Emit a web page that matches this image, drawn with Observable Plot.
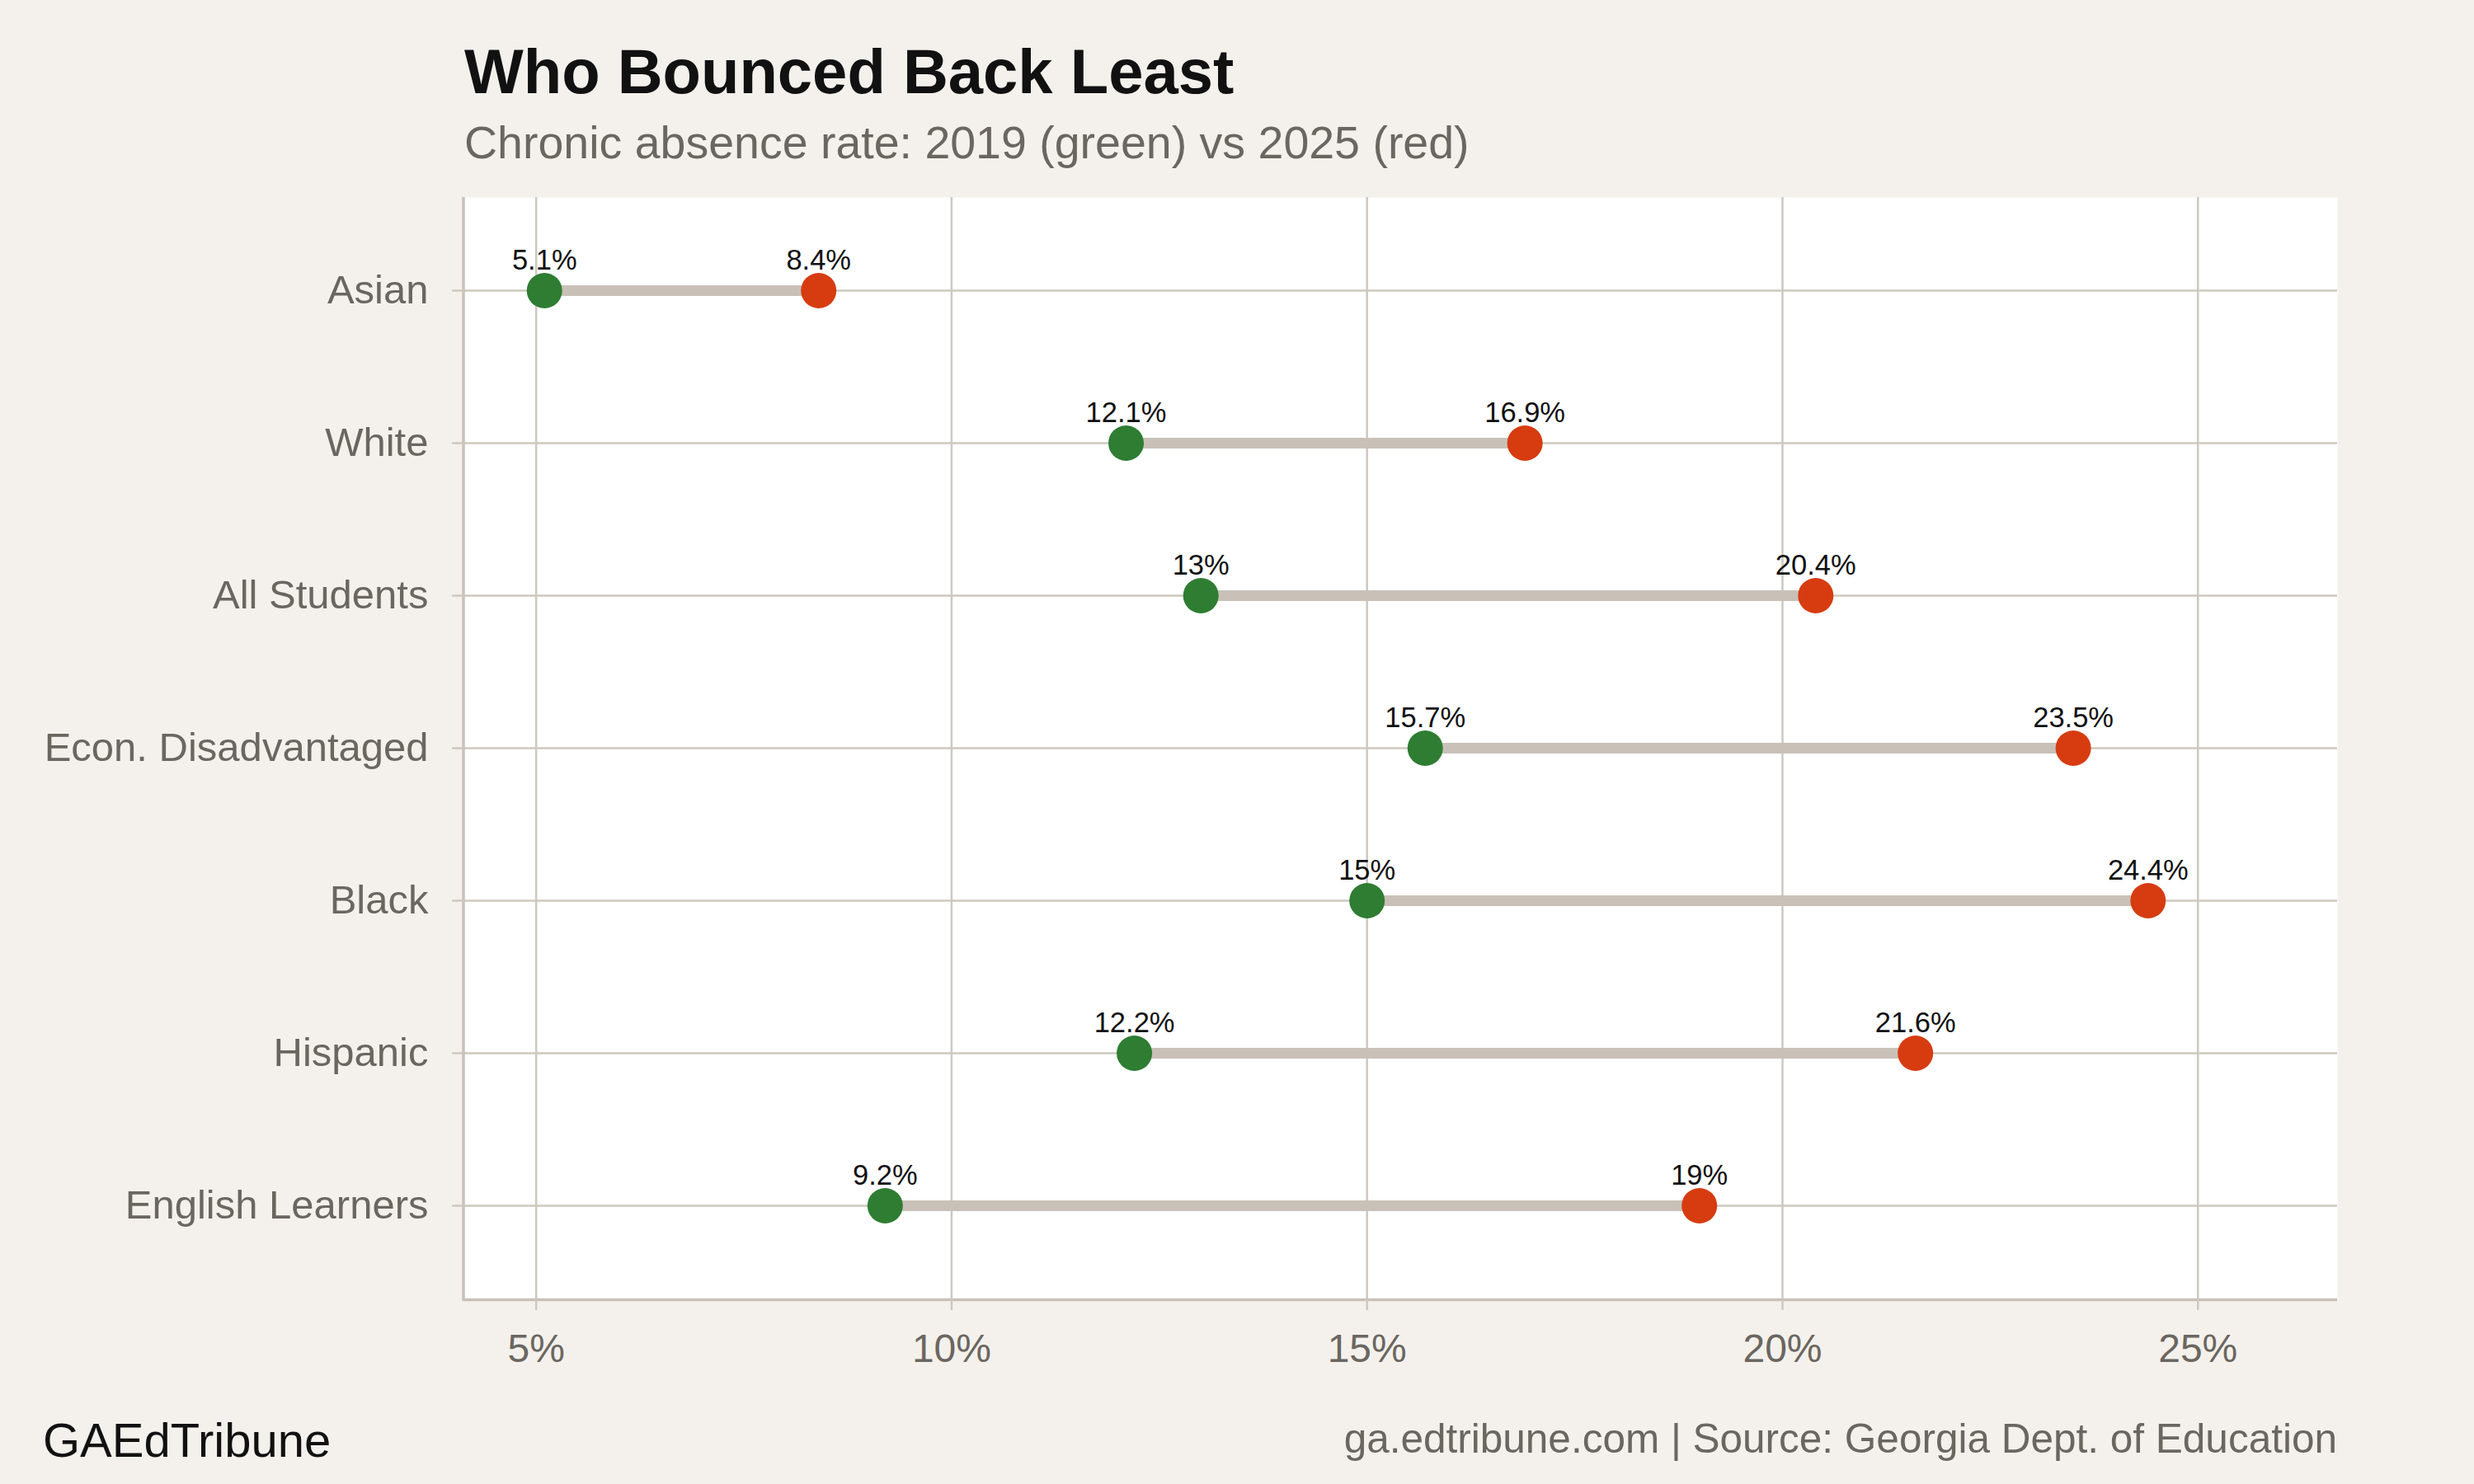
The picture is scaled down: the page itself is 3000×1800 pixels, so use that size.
<!DOCTYPE html>
<html>
<head>
<meta charset="utf-8">
<script src="https://cdn.jsdelivr.net/npm/d3@7"></script>
<script src="https://cdn.jsdelivr.net/npm/@observablehq/plot@0.6"></script>
<style>
  html, body { margin: 0; padding: 0; background: #f4f1ec; }
  #page { position: relative; width: 3000px; height: 1800px; background: #f4f1ec;
          font-family: "Liberation Sans", Arial, Helvetica, sans-serif; overflow: hidden; }
  .txt { position: absolute; line-height: 1; white-space: nowrap; }
  #title { left: 563px; top: 49px; font-size: 76px; font-weight: bold; color: #111; }
  #subtitle { left: 563px; top: 146px; font-size: 55.5px; color: #6b6660; }
  #brand { left: 52px; top: 1718px; font-size: 58px; color: #111; }
  #source { right: 166px; top: 1720px; font-size: 49.5px; color: #6b6660; }
  #chart { position: absolute; left: 0; top: 200px; }
</style>
</head>
<body>
<div id="page">
  <div id="title" class="txt">Who Bounced Back Least</div>
  <div id="subtitle" class="txt">Chronic absence rate: 2019 (green) vs 2025 (red)</div>
  <div id="chart"></div>
  <div id="brand" class="txt">GAEdTribune</div>
  <div id="source" class="txt">ga.edtribune.com | Source: Georgia Dept. of Education</div>
</div>
<script>
// Student groups, top to bottom
const groups = ["Asian", "White", "All Students", "Econ. Disadvantaged", "Black", "Hispanic", "English Learners"];
// Chronic absence rate (%) by year
const rate2019 = [5.1, 12.1, 13, 15.7, 15, 12.2, 9.2];
const rate2025 = [8.4, 16.9, 20.4, 23.5, 24.4, 21.6, 19];
// x-axis ticks (%)
const xTicks = [5, 10, 15, 20, 25];

const green = "#2e7d32";
const red = "#d63c10";
const segColor = "#c9c1b8";
const gridColor = "#cec8bf";
const axisText = "#6b6660";

const rows = groups.map((g, i) => ({group: g, y2019: rate2019[i], y2025: rate2025[i]}));
const pct = v => `${v}%`;

// L-shaped axis lines along the left and bottom of the panel
const axisLines = (index, scales, values, dim) => {
  const g = d3.create("svg:g").attr("stroke", "#c9c1b8").attr("stroke-width", 3.5);
  const left = dim.marginLeft, right = dim.width - dim.marginRight;
  const top = dim.marginTop, bottom = dim.height - dim.marginBottom;
  g.append("line").attr("x1", left).attr("x2", left).attr("y1", top).attr("y2", bottom + 1.5);
  g.append("line").attr("x1", left - 1.5).attr("x2", right).attr("y1", bottom + 1.5).attr("y2", bottom + 1.5);
  return g.node();
};

const chart = Plot.plot({
  width: 3000,
  height: 1475,
  marginLeft: 562,
  marginRight: 166,
  marginTop: 39,
  marginBottom: 100,
  style: {background: "transparent", fontFamily: "'Liberation Sans', Arial, Helvetica, sans-serif", overflow: "visible"},
  x: {domain: [4.13, 26.68]},
  y: {type: "point", domain: groups, padding: 0.6},
  marks: [
    Plot.frame({fill: "white", stroke: "none"}),
    Plot.gridX({ticks: xTicks, stroke: gridColor, strokeOpacity: 1, strokeWidth: 2.5}),
    Plot.gridY({stroke: gridColor, strokeOpacity: 1, strokeWidth: 2.5}),
    axisLines,
    Plot.axisX({ticks: xTicks, tickFormat: pct, tickSize: 14, tickPadding: 28, fontSize: 48,
                fill: axisText, stroke: gridColor, strokeWidth: 2.5, label: null}),
    Plot.axisY({tickSize: 14, tickPadding: 29, fontSize: 49,
                fill: axisText, stroke: gridColor, strokeWidth: 2.5, label: null}),
    Plot.ruleY(rows, {y: "group", x1: "y2019", x2: "y2025", stroke: segColor, strokeWidth: 13}),
    Plot.dot(rows, {x: "y2019", y: "group", r: 21.5, fill: green, stroke: "none"}),
    Plot.dot(rows, {x: "y2025", y: "group", r: 21.5, fill: red, stroke: "none"}),
    Plot.text(rows, {x: "y2019", y: "group", text: d => pct(d.y2019), dy: -37, fontSize: 34.5, fill: "#111", lineAnchor: "middle"}),
    Plot.text(rows, {x: "y2025", y: "group", text: d => pct(d.y2025), dy: -37, fontSize: 34.5, fill: "#111", lineAnchor: "middle"})
  ]
});
document.getElementById("chart").appendChild(chart);
</script>
</body>
</html>
